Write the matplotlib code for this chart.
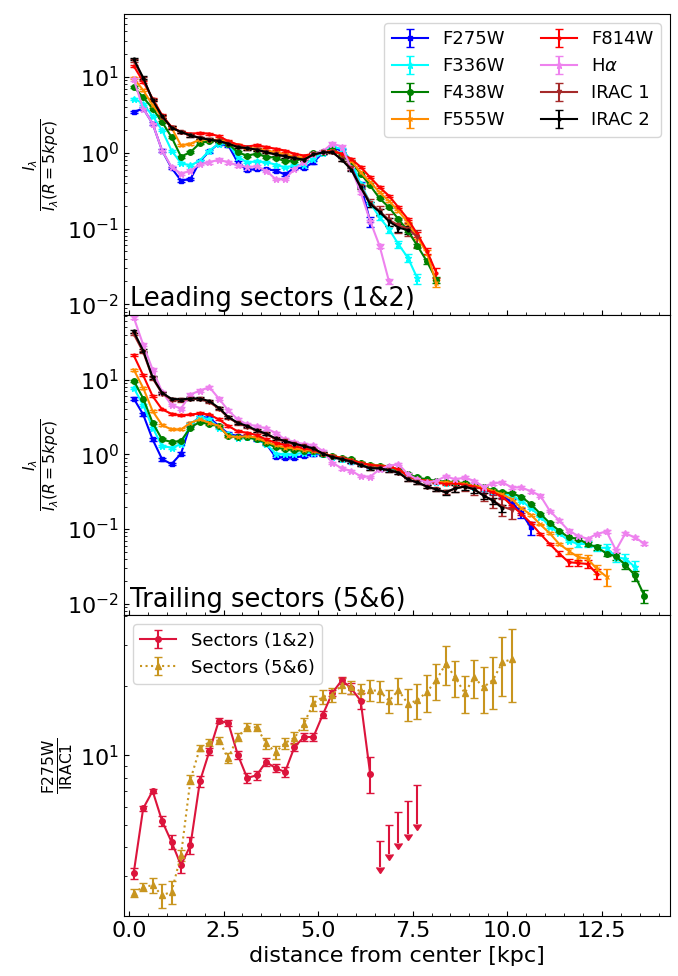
import numpy as np
import matplotlib
matplotlib.use("Agg")
import matplotlib.pyplot as plt
from matplotlib.ticker import MultipleLocator

# ---------------------------------------------------------------------------
# Radial profiles normalised at R = 5 kpc (bins of 0.25 kpc, first centre 0.125)
# ---------------------------------------------------------------------------
r_first = 0.125
r_step = 0.25

bands = ["F275W", "F336W", "F438W", "F555W", "F814W", r"H$\alpha$", "IRAC 1", "IRAC 2"]
band_colors = ["blue", "cyan", "green", "darkorange", "red", "violet", "brown", "black"]
band_markers = ["s", "*", "o", "x", ".", "*", "v", "."]
band_msize = [3, 5, 4, 3, 4, 5, 3, 4]

# Leading sectors (1&2)
lead_f275w = [3.47, 3.84, 2.43, 1.07, 0.63, 0.43, 0.45, 0.77, 1.05, 1.32, 1.25, 0.75, 0.59,
              0.61, 0.61, 0.58, 0.52, 0.63, 0.63, 0.75, 1.0, 1.16, 1.07, 0.71, 0.38, 0.124]
lead_f336w = [5.2, 4.47, 3.04, 1.98, 1.07, 0.73, 0.68, 0.79, 1.07, 1.32, 1.32, 0.88, 0.75,
              0.77, 0.75, 0.70, 0.64, 0.68, 0.70, 0.83, 1.0, 1.19, 1.13, 0.79, 0.39, 0.22,
              0.14, 0.098, 0.062, 0.041, 0.022]
lead_f438w = [7.4, 5.4, 3.84, 2.55, 1.61, 0.89, 1.02, 1.34, 1.43, 1.43, 1.32, 1.01, 0.92,
              0.97, 0.89, 0.86, 0.77, 0.79, 0.83, 0.99, 1.02, 1.13, 0.92, 0.75, 0.53, 0.37,
              0.25, 0.19, 0.133, 0.093, 0.059, 0.037, 0.021]
lead_f555w = [9.6, 6.7, 4.25, 2.97, 2.15, 1.25, 1.32, 1.49, 1.49, 1.46, 1.39, 1.28, 1.16,
              1.13, 1.07, 1.02, 0.95, 0.89, 0.86, 0.95, 1.02, 1.07, 0.97, 0.79, 0.55, 0.41,
              0.30, 0.23, 0.17, 0.12, 0.076, 0.048, 0.019]
lead_f814w = [14.0, 8.7, 5.2, 3.13, 2.19, 1.88, 1.79, 1.82, 1.79, 1.65, 1.43, 1.28, 1.21,
              1.26, 1.19, 1.13, 1.07, 0.97, 0.92, 0.97, 1.02, 1.05, 0.97, 0.83, 0.65, 0.475,
              0.35, 0.27, 0.19, 0.133, 0.084, 0.051, 0.026]
lead_halpha = [9.3, 3.84, 2.43, 1.07, 0.65, 0.53, 0.58, 0.71, 0.75, 0.81, 0.75, 0.68, 0.65,
               0.66, 0.58, 0.45, 0.45, 0.61, 0.75, 0.97, 1.05, 1.32, 1.21, 0.62, 0.30, 0.126,
               0.059, 0.020]
lead_irac1 = [16.5, 9.5, 5.0, 3.0, 2.15, 1.88, 1.70, 1.57, 1.49, 1.43, 1.32, 1.19, 1.15,
              1.10, 1.02, 0.95, 0.90, 0.85, 0.81, 0.95, 1.01, 1.02, 0.82, 0.62, 0.36, 0.22,
              0.17, 0.13, 0.11, 0.10, 0.077]
lead_irac2 = [17.3, 9.8, 4.95, 3.04, 2.15, 1.88, 1.70, 1.57, 1.49, 1.43, 1.32, 1.19, 1.15,
              1.10, 1.02, 0.95, 0.90, 0.85, 0.81, 0.95, 1.01, 1.02, 0.81, 0.60, 0.35, 0.21,
              0.166, 0.124, 0.103, 0.095]

# Trailing sectors (5&6)
trail_f275w = [5.58, 3.41, 1.58, 0.86, 0.74, 1.02, 2.51, 3.15, 3.08, 2.39,
               1.89, 1.75, 1.75, 1.58, 1.39, 0.92, 0.90, 0.90, 0.95, 1.0,
               1.0, 0.92, 0.86, 0.80, 0.74, 0.69, 0.66, 0.65, 0.61, 0.51,
               0.46, 0.44, 0.43, 0.42, 0.42, 0.40, 0.38, 0.34, 0.31, 0.28,
               0.225, 0.165, 0.105]
trail_f336w = [7.74, 4.55, 2.27, 1.29, 1.23, 1.36, 2.51, 3.15, 2.93, 2.27,
               1.85, 1.67, 1.70, 1.58, 1.39, 1.02, 1.0, 1.0, 1.05, 1.05,
               1.0, 0.92, 0.86, 0.81, 0.76, 0.70, 0.68, 0.66, 0.61, 0.51,
               0.46, 0.44, 0.42, 0.41, 0.41, 0.40, 0.37, 0.35, 0.32, 0.30,
               0.28, 0.24, 0.19, 0.147, 0.108, 0.0875, 0.070, 0.063, 0.063, 0.056,
               0.056, 0.042, 0.040, 0.031]
trail_f438w = [9.7, 5.58, 2.64, 1.58, 1.46, 1.51, 2.27, 2.73, 2.51, 2.39,
               1.75, 1.70, 1.70, 1.58, 1.43, 1.24, 1.17, 1.14, 1.11, 1.09,
               1.0, 0.95, 0.90, 0.86, 0.77, 0.72, 0.70, 0.68, 0.61, 0.54,
               0.49, 0.46, 0.44, 0.43, 0.42, 0.41, 0.38, 0.36, 0.33, 0.31,
               0.30, 0.27, 0.215, 0.16, 0.12, 0.095, 0.077, 0.074, 0.063, 0.057,
               0.047, 0.043, 0.033, 0.024, 0.0128]
trail_f555w = [13.6, 7.74, 3.78, 2.46, 2.15, 2.15, 2.64, 2.93, 2.64, 2.39,
               1.75, 1.70, 1.75, 1.67, 1.47, 1.33, 1.23, 1.20, 1.14, 1.11,
               1.02, 0.95, 0.89, 0.83, 0.76, 0.72, 0.70, 0.68, 0.63, 0.51,
               0.46, 0.44, 0.43, 0.42, 0.42, 0.40, 0.38, 0.36, 0.32, 0.29,
               0.25, 0.19, 0.155, 0.115, 0.0875, 0.063, 0.051, 0.042, 0.040, 0.029,
               0.023]
trail_f814w = [21.1, 11.4, 6.0, 3.98, 3.48, 3.31, 3.41, 3.52, 3.41, 2.93,
               2.39, 2.03, 1.94, 1.81, 1.58, 1.43, 1.33, 1.29, 1.20, 1.14,
               1.02, 0.95, 0.89, 0.83, 0.77, 0.72, 0.70, 0.68, 0.63, 0.51,
               0.46, 0.44, 0.42, 0.40, 0.41, 0.39, 0.37, 0.34, 0.31, 0.27,
               0.205, 0.16, 0.12, 0.086, 0.063, 0.047, 0.036, 0.035, 0.034, 0.025]
trail_halpha = [68.0, 29.3, 13.6, 6.85, 4.55, 4.10, 6.31, 7.13, 7.91, 5.58,
                3.86, 2.93, 2.51, 2.39, 2.22, 1.94, 1.58, 1.47, 1.36, 1.33,
                1.11, 0.77, 0.65, 0.60, 0.51, 0.50, 0.63, 0.70, 0.74, 0.54,
                0.46, 0.42, 0.44, 0.51, 0.46, 0.49, 0.44, 0.37, 0.41, 0.42,
                0.36, 0.36, 0.32, 0.28, 0.175, 0.13, 0.095, 0.081, 0.074, 0.086,
                0.093, 0.052, 0.0875, 0.077, 0.064]
trail_irac1 = [40.6, 23.5, 10.4, 6.5, 5.4, 5.3, 5.5, 5.5, 5.0, 4.1,
               3.1, 2.6, 2.35, 2.05, 1.86, 1.61, 1.49, 1.37, 1.28, 1.18,
               1.02, 0.92, 0.86, 0.80, 0.72, 0.65, 0.65, 0.61, 0.57, 0.46,
               0.42, 0.37, 0.34, 0.31, 0.35, 0.37, 0.34, 0.28, 0.24, 0.20,
               0.18]
trail_irac2 = [44.0, 24.4, 10.7, 6.64, 5.52, 5.41, 5.58, 5.58, 5.14, 4.19,
               3.15, 2.64, 2.39, 2.09, 1.89, 1.63, 1.51, 1.39, 1.29, 1.20,
               1.02, 0.92, 0.86, 0.80, 0.72, 0.65, 0.65, 0.61, 0.57, 0.46,
               0.42, 0.37, 0.34, 0.31, 0.35, 0.37, 0.34, 0.28, 0.24, 0.19]

# Relative uncertainties: typical value, then the outermost bins
lead_relerr = [(0.04, [0.08, 0.15]), (0.03, [0.08, 0.10, 0.12, 0.12, 0.15]),
               (0.03, [0.06, 0.08, 0.10]), (0.03, [0.08, 0.10]),
               (0.03, [0.08, 0.10, 0.15]), (0.04, [0.06, 0.08]),
               (0.04, [0.12, 0.15, 0.18, 0.20, 0.20, 0.25]),
               (0.04, [0.08, 0.10, 0.12, 0.12, 0.12])]
trail_relerr = [(0.04, [0.08, 0.12, 0.15, 0.20]),
                (0.03, [0.08, 0.10, 0.10, 0.12, 0.15, 0.15, 0.20]),
                (0.03, [0.06, 0.08, 0.08, 0.10, 0.12, 0.15, 0.20]),
                (0.03, [0.08, 0.10, 0.12, 0.15, 0.25]),
                (0.03, [0.08, 0.10, 0.10, 0.12, 0.15]),
                (0.04, []),
                (0.04, [0.10, 0.12, 0.15, 0.15, 0.20, 0.25, 0.25]),
                (0.04, [0.08, 0.10, 0.10, 0.10, 0.10, 0.10, 0.10])]

lead_profiles = [lead_f275w, lead_f336w, lead_f438w, lead_f555w,
                 lead_f814w, lead_halpha, lead_irac1, lead_irac2]
trail_profiles = [trail_f275w, trail_f336w, trail_f438w, trail_f555w,
                  trail_f814w, trail_halpha, trail_irac1, trail_irac2]

# F275W / IRAC1 ratio
ratio_lead = [3.10, 5.89, 7.01, 5.20, 4.22, 3.35, 4.08, 7.72, 10.4, 14.1, 13.8, 10.07, 7.98,
              8.20, 9.36, 8.81, 8.47, 10.86, 12.0, 12.0, 15.0, 18.6, 21.1, 19.5, 17.2, 8.34]
ratio_lead_err = [0.17, 0.12, 0.15, 0.25, 0.30, 0.25, 0.35, 0.40, 0.40, 0.35, 0.40, 0.40, 0.40,
                  0.35, 0.40, 0.35, 0.40, 0.40, 0.45, 0.45, 0.50, 0.60, 0.75, 1.0, 1.35, 1.5]
ratio_lead_ul_r = [6.625, 6.875, 7.125, 7.375, 7.625]
ratio_lead_ul = [4.26, 4.99, 5.69, 6.33, 7.42]
ratio_lead_ul_len = [0.97, 1.23, 1.51, 1.77, 2.35]

ratio_trail = [2.54, 2.70, 2.74, 2.48, 2.57, 3.70, 7.85, 10.75, 11.4, 11.6,
               9.74, 12.0, 13.3, 13.2, 11.3, 10.3, 11.3, 11.9, 13.7, 16.8,
               17.9, 18.3, 20.1, 19.7, 18.9, 19.1, 19.0, 17.2, 19.1, 16.7,
               17.3, 18.8, 21.1, 24.9, 21.7, 18.6, 21.7, 19.7, 21.2, 25.3, 26.0]
ratio_trail_err = [0.11, 0.10, 0.20, 0.30, 0.30, 0.20, 0.35, 0.35, 0.40, 0.40,
                   0.45, 0.50, 0.50, 0.50, 0.60, 0.70, 0.60, 0.70, 0.85, 1.2,
                   1.3, 1.3, 1.5, 1.3, 1.5, 2.0, 2.0, 2.0, 2.4, 2.6,
                   3.0, 3.4, 3.8, 4.7, 3.8, 3.4, 4.0, 4.5, 5.4, 7.3, 9.0]


def radii(n):
    return r_first + r_step * np.arange(n)


def rel_errors(n, spec):
    base, tail = spec
    rel = np.full(n, base)
    if tail:
        rel[-len(tail):] = tail
    return rel


fig, axes = plt.subplots(3, 1, figsize=(6.78, 9.76), dpi=100, sharex=True)
fig.subplots_adjust(left=0.183, right=0.988, top=0.9857, bottom=0.0615, hspace=0)

panel_data = [(axes[0], lead_profiles, lead_relerr, "Leading sectors (1&2)", (0.0073, 68)),
              (axes[1], trail_profiles, trail_relerr, "Trailing sectors (5&6)", (0.007, 74))]

for ax, profiles, relerr, title, ylim in panel_data:
    for vals, spec, name, col, mk, ms in zip(profiles, relerr, bands, band_colors,
                                            band_markers, band_msize):
        v = np.asarray(vals)
        r = radii(len(v))
        err = v * rel_errors(len(v), spec)
        ax.errorbar(r, v, yerr=err, color=col, marker=mk, ms=ms, lw=1.5,
                    elinewidth=1.5, capsize=3, label=name)
    ax.set_yscale("log")
    ax.set_ylim(*ylim)
    ax.set_ylabel(r"$\frac{I_\lambda}{I_\lambda(R=5kpc)}$", fontsize=16)
    ax.text(0.01, 0.008, title, transform=ax.transAxes, fontsize=18.5,
            ha="left", va="bottom")

axes[0].legend(ncol=2, fontsize=13, loc="upper right")

ax = axes[2]
crimson = "crimson"
gold = "#c8951f"
ax.errorbar(radii(len(ratio_lead)), ratio_lead, yerr=ratio_lead_err, color=crimson,
            marker="o", ms=4, lw=1.5, elinewidth=1.5, capsize=3, label="Sectors (1&2)")
ax.errorbar(ratio_lead_ul_r, ratio_lead_ul, yerr=ratio_lead_ul_len, uplims=True,
            fmt="none", color=crimson, ecolor=crimson, elinewidth=1.5, capsize=3,
            markeredgecolor=crimson, markerfacecolor=crimson)
ax.errorbar(radii(len(ratio_trail)), ratio_trail, yerr=ratio_trail_err, color=gold,
            marker="^", ms=5, ls=":", lw=1.5, elinewidth=1.5, capsize=3,
            label="Sectors (5&6)")
ax.set_yscale("log")
ax.set_ylim(2.02, 40.3)
ax.set_ylabel(r"$\frac{\rm F275W}{\rm IRAC1}$", fontsize=16)
ax.legend(loc="upper left", fontsize=13)

ax.set_xlim(-0.13, 14.3)
ax.xaxis.set_major_locator(MultipleLocator(2.5))
ax.xaxis.set_minor_locator(MultipleLocator(0.5))
ax.set_xlabel("distance from center [kpc]", fontsize=16)

for a in axes:
    a.tick_params(which="both", direction="in", labelsize=16)

fig.savefig("out.png", dpi=100)
